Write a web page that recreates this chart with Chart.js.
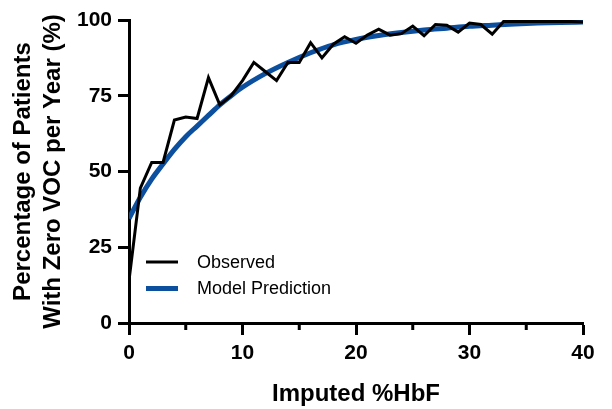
<!DOCTYPE html>
<html>
<head>
<meta charset="utf-8">
<script src="https://cdn.jsdelivr.net/npm/chart.js@4"></script>
<style>
  html, body { margin: 0; padding: 0; background: #fff; }
  #wrap { width: 612px; height: 409px; }
</style>
</head>
<body>
<div id="wrap"><canvas id="hbfChart" width="612" height="409"></canvas></div>
<script>
// Observed: one value per integer %HbF from 0 to 40
const obsX = [0,1,2,3,4,5,6,7,8,9,10,11,12,13,14,15,16,17,18,19,20,
  21,22,23,24,25,26,27,28,29,30,31,32,33,34,35,36,37,38,39,40];
const obsY = [14,44.5,53,53,67,68,67.5,81,72,75,80,86,83,80,86,86,92.5,87.5,92,94.5,92.3,
  95,97,95,95.5,98,94.8,98.5,98.3,96,99,98.5,95.3,99.5,99.5,99.5,99.5,99.5,99.5,99.5,99.3];

// Model prediction
const modelX = [0,1,2,3,4,5,6,7,8,9,10,12,14,16,18,20,22,24,26,28,30,32,34,36,38,40];
const modelY = [34.5,41.5,47.5,52.5,57.3,61.5,65,68.5,72,75,77.8,82.3,86,89.2,91.8,93.6,
  94.9,95.9,96.7,97.3,97.9,98.3,98.7,99,99.2,99.3];

const xTicks = [0,10,20,30,40];
const xMinorTicks = [5,15,25,35];
const yTicks = [0,25,50,75,100];

const seriesNames = ['Observed', 'Model Prediction'];
const seriesColors = ['#000000', '#0b4f9e'];

const FONT = '"Liberation Sans", Arial, Helvetica, sans-serif';

// short ticks between the labelled ones on the x axis
const minorTicks = {
  id: 'minorTicks',
  afterDraw(chart) {
    const ctx = chart.ctx;
    const xs = chart.scales.x;
    const y0 = chart.chartArea.bottom;
    ctx.save();
    ctx.strokeStyle = '#000';
    ctx.lineWidth = 3;
    xMinorTicks.forEach(v => {
      const px = xs.getPixelForValue(v);
      ctx.beginPath();
      ctx.moveTo(px, y0);
      ctx.lineTo(px, y0 + 7);
      ctx.stroke();
    });
    ctx.restore();
  }
};

// legend inside the plot, lower left
const innerLegend = {
  id: 'innerLegend',
  afterDraw(chart) {
    const ctx = chart.ctx;
    const area = chart.chartArea;
    ctx.save();
    ctx.font = '18px ' + FONT;
    ctx.textBaseline = 'middle';
    ctx.textAlign = 'left';
    chart.data.datasets.forEach((ds, i) => {
      const y = area.bottom - 61 + i * 26.5;
      ctx.strokeStyle = ds.borderColor;
      ctx.lineWidth = ds.borderWidth;
      ctx.beginPath();
      ctx.moveTo(area.left + 17, y);
      ctx.lineTo(area.left + 49, y);
      ctx.stroke();
      ctx.fillStyle = '#000';
      ctx.fillText(ds.label, area.left + 68, y + 1);
    });
    ctx.restore();
  }
};

new Chart(document.getElementById('hbfChart'), {
  type: 'line',
  data: {
    datasets: [{
      label: seriesNames[0],
      data: obsX.map((x, i) => ({ x: x, y: obsY[i] })),
      borderColor: seriesColors[0],
      borderWidth: 3,
      pointRadius: 0,
      tension: 0,
      borderJoinStyle: 'miter',
      fill: false,
    }, {
      label: seriesNames[1],
      data: modelX.map((x, i) => ({ x: x, y: modelY[i] })),
      borderColor: seriesColors[1],
      borderWidth: 5,
      pointRadius: 0,
      cubicInterpolationMode: 'monotone',
      fill: false,
    }],
  },
  options: {
    responsive: false,
    animation: false,
    layout: { padding: { top: 20, right: 29, left: 0, bottom: 0 } },
    plugins: {
      legend: { display: false },
      tooltip: { enabled: false },
    },
    scales: {
      x: {
        type: 'linear',
        min: 0,
        max: 40,
        afterFit(scale) { scale.height = 86; },
        afterBuildTicks(scale) { scale.ticks = xTicks.map(v => ({ value: v })); },
        ticks: {
          color: '#000',
          padding: 6,
          font: { family: FONT, size: 21, weight: 'bold' },
        },
        grid: {
          drawOnChartArea: false,
          tickLength: 12,
          tickWidth: 3,
          tickColor: '#000',
        },
        border: { display: true, color: '#000', width: 3 },
        title: {
          display: true,
          text: 'Imputed %HbF',
          color: '#000',
          padding: { top: 0, bottom: 0 },
          font: { family: FONT, size: 24, weight: 'bold', lineHeight: 1.2 },
        },
      },
      y: {
        min: 0,
        max: 100,
        afterFit(scale) { scale.width = 129; },
        afterBuildTicks(scale) { scale.ticks = yTicks.map(v => ({ value: v })); },
        ticks: {
          color: '#000',
          padding: 6,
          font: { family: FONT, size: 21, weight: 'bold' },
        },
        grid: {
          drawOnChartArea: false,
          tickLength: 11,
          tickWidth: 3,
          tickColor: '#000',
        },
        border: { display: true, color: '#000', width: 3 },
        title: {
          display: true,
          text: ['Percentage of Patients', 'With Zero VOC per Year (%)'],
          color: '#000',
          padding: { top: 8, bottom: 0 },
          font: { family: FONT, size: 24, weight: 'bold', lineHeight: 1.25 },
        },
      },
    },
  },
  plugins: [minorTicks, innerLegend],
});
</script>
</body>
</html>
